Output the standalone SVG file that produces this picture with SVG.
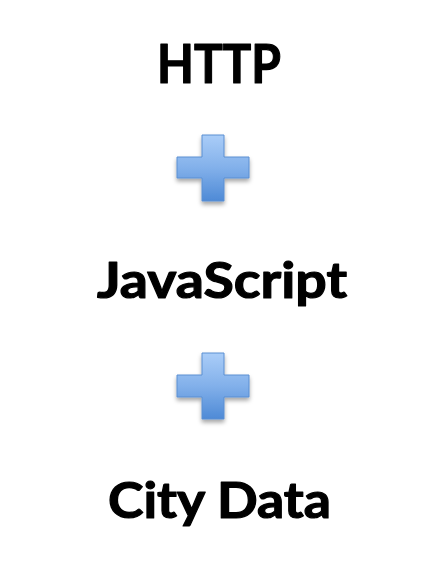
<svg xmlns="http://www.w3.org/2000/svg" width="443" height="568" viewBox="0 0 443 568">
<style>
.t{font-family:"Lato","Open Sans","Liberation Sans",sans-serif;font-weight:700;fill:#000;stroke:#000;stroke-width:1.2;stroke-linejoin:round}
.plus{fill:url(#g);stroke:#5b8fd2;stroke-width:1;filter:url(#sh)}
</style>
<defs>
<linearGradient id="g" x1="0" y1="0" x2="0" y2="1">
<stop offset="0" stop-color="#aacdf8"/>
<stop offset="0.5" stop-color="#82b0ea"/>
<stop offset="1" stop-color="#4e8ad6"/>
</linearGradient>
<filter id="sh" x="-20%" y="-20%" width="140%" height="150%">
<feDropShadow dx="0" dy="3" stdDeviation="2" flood-color="#000" flood-opacity="0.35"/>
</filter>
</defs>
<rect width="443" height="568" fill="#fff"/>
<g id="http"><text class="t" x="157" y="83" font-size="54" textLength="124" lengthAdjust="spacingAndGlyphs">HTTP</text></g>
<g id="plus1"><path class="plus" d="M202,135H224V157H249V178H224V201H202V178H177V157H202Z"/></g>
<g id="javascript"><text class="t" x="97" y="298" font-size="50" textLength="250" lengthAdjust="spacingAndGlyphs">JavaScript</text></g>
<g id="plus2"><path class="plus" d="M202,353H224V375H249V397H224V419H202V397H177V375H202Z"/></g>
<g id="citydata"><text class="t" x="108" y="518" font-size="50" textLength="223" lengthAdjust="spacingAndGlyphs">City Data</text></g>
<g id="connectors"/>
</svg>
